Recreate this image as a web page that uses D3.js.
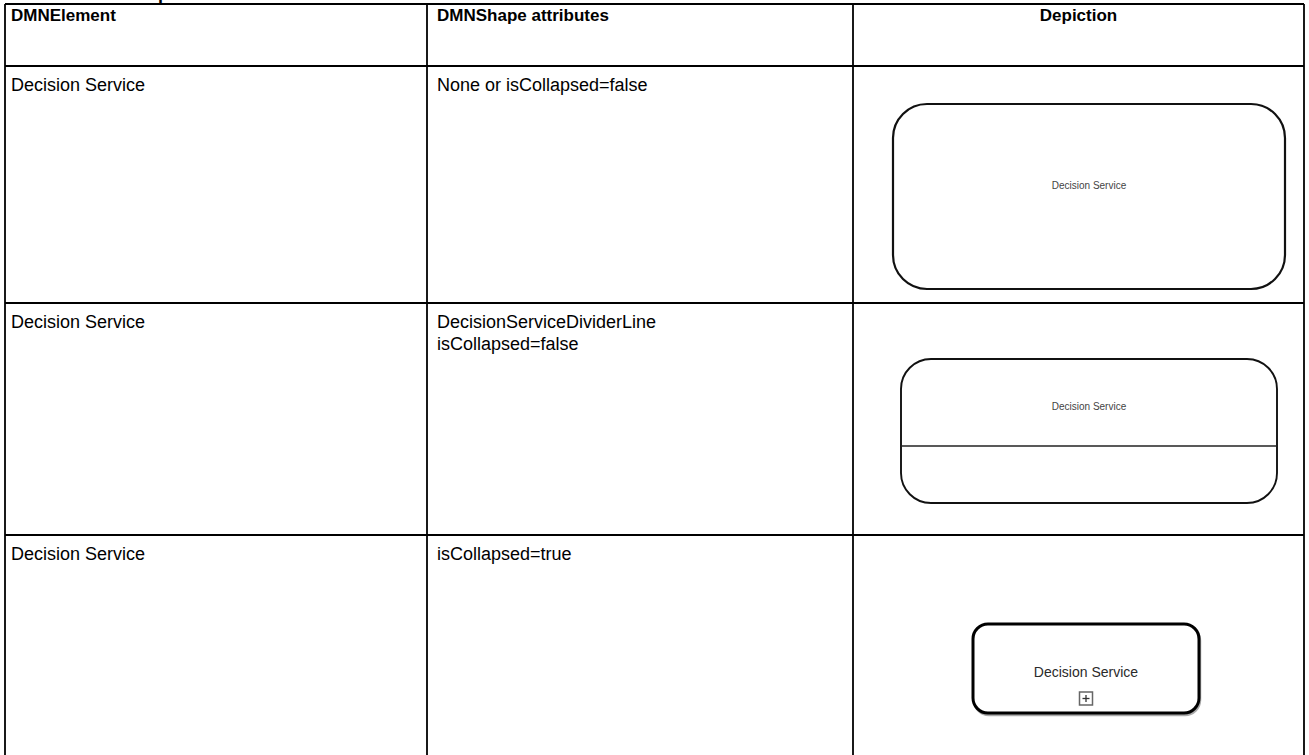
<!DOCTYPE html>
<html>
<head>
<meta charset="utf-8">
<script src="https://cdn.jsdelivr.net/npm/d3@7"></script>
<style>
  html, body { margin: 0; padding: 0; background: #fff; }
  svg { display: block; }
</style>
</head>
<body>
<svg id="chart" width="1309" height="755"></svg>
<script>
// ---- data ----
const headers = ["DMNElement", "DMNShape attributes", "Depiction"];
const elements = ["Decision Service", "Decision Service", "Decision Service"];
const attributes = [
  ["None or isCollapsed=false"],
  ["DecisionServiceDividerLine", "isCollapsed=false"],
  ["isCollapsed=true"]
];
const depictionKinds = ["expanded", "divided", "collapsed"];
const depictionLabel = "Decision Service";
const captionFragment = "p";

// ---- layout ----
const svg = d3.select("#chart");
const font = "Liberation Sans, Arial, sans-serif";

const colEdges = [5, 427, 853, 1304];
const rowEdges = [4, 66, 303, 535, 800];

const xCol = d3.scaleOrdinal().domain(d3.range(3)).range(colEdges.slice(0, 3));
const xColEnd = d3.scaleOrdinal().domain(d3.range(3)).range(colEdges.slice(1));
const yRow = d3.scaleOrdinal().domain(d3.range(4)).range(rowEdges.slice(0, 4));
const yRowEnd = d3.scaleOrdinal().domain(d3.range(4)).range(rowEdges.slice(1));
const padX = [6, 10, 0];

// caption fragment (clipped at top edge, as in the reference)
svg.append("text")
  .attr("x", 158).attr("y", 0)
  .attr("font-family", font).attr("font-weight", "bold").attr("font-size", 18)
  .attr("fill", "#000")
  .text(captionFragment);

const grid = svg.append("g").attr("stroke", "#000").attr("stroke-width", 1.8);
grid.selectAll("line.h").data(rowEdges.slice(0, 4)).join("line")
  .attr("class", "h")
  .attr("x1", colEdges[0]).attr("x2", colEdges[3])
  .attr("y1", d => d).attr("y2", d => d);
grid.selectAll("line.v").data(colEdges).join("line")
  .attr("class", "v")
  .attr("x1", d => d).attr("x2", d => d)
  .attr("y1", rowEdges[0]).attr("y2", 760);

// header
svg.append("g").selectAll("text").data(headers).join("text")
  .attr("x", (d, i) => i === 2 ? (xCol(i) + xColEnd(i)) / 2 : xCol(i) + padX[i])
  .attr("y", yRow(0) + 17)
  .attr("text-anchor", (d, i) => i === 2 ? "middle" : "start")
  .attr("font-family", font).attr("font-weight", "bold").attr("font-size", 17)
  .attr("fill", "#000")
  .text(d => d);

// body col 1
svg.append("g").selectAll("text").data(elements).join("text")
  .attr("x", xCol(0) + padX[0])
  .attr("y", (d, i) => yRow(i + 1) + 25)
  .attr("font-family", font).attr("font-size", 18)
  .attr("fill", "#000")
  .text(d => d);

// body col 2
const attrG = svg.append("g");
attributes.forEach((lines, i) => {
  attrG.selectAll(null).data(lines).join("text")
    .attr("x", xCol(1) + padX[1])
    .attr("y", (d, j) => yRow(i + 1) + 25 + j * 22)
    .attr("font-family", font).attr("font-size", 18)
    .attr("fill", "#000")
    .text(d => d);
});

// depictions
const depG = svg.append("g");
depictionKinds.forEach((kind, i) => {
  const r = i + 1;
  const cx0 = xCol(2), cw = xColEnd(2) - xCol(2);
  const ry0 = yRow(r);
  const g = depG.append("g");
  if (kind === "expanded") {
    const x = cx0 + 40, y = ry0 + 38, w = cw - 59, h = 185;
    g.append("rect").attr("x", x).attr("y", y).attr("width", w).attr("height", h)
      .attr("rx", 34).attr("ry", 34)
      .attr("fill", "#fff").attr("stroke", "#111").attr("stroke-width", 2.2);
    g.append("text").attr("x", x + w / 2).attr("y", y + h / 2 - 8)
      .attr("text-anchor", "middle").attr("font-family", font).attr("font-size", 10)
      .attr("fill", "#444").text(depictionLabel);
  } else if (kind === "divided") {
    const x = cx0 + 48, y = ry0 + 56, w = cw - 75, h = 144;
    g.append("rect").attr("x", x).attr("y", y).attr("width", w).attr("height", h)
      .attr("rx", 30).attr("ry", 30)
      .attr("fill", "#fff").attr("stroke", "#111").attr("stroke-width", 1.9);
    g.append("line").attr("x1", x).attr("x2", x + w)
      .attr("y1", y + 87).attr("y2", y + 87)
      .attr("stroke", "#222").attr("stroke-width", 1.3);
    g.append("text").attr("x", x + w / 2).attr("y", y + 51)
      .attr("text-anchor", "middle").attr("font-family", font).attr("font-size", 10)
      .attr("fill", "#444").text(depictionLabel);
  } else {
    const x = cx0 + 120, y = ry0 + 89, w = 226, h = 89;
    g.append("rect").attr("x", x + 1).attr("y", y + 2).attr("width", w).attr("height", h)
      .attr("rx", 15).attr("ry", 15)
      .attr("fill", "none").attr("stroke", "#aaa").attr("stroke-width", 2.5);
    g.append("rect").attr("x", x).attr("y", y).attr("width", w).attr("height", h)
      .attr("rx", 15).attr("ry", 15)
      .attr("fill", "#fff").attr("stroke", "#000").attr("stroke-width", 3);
    g.append("text").attr("x", x + w / 2).attr("y", y + 53)
      .attr("text-anchor", "middle").attr("font-family", font).attr("font-size", 14)
      .attr("fill", "#2a2a2a").text(depictionLabel);
    const bs = 13, bx = x + w / 2 - bs / 2, by = y + 68;
    g.append("rect").attr("x", bx).attr("y", by).attr("width", bs).attr("height", bs)
      .attr("fill", "#fff").attr("stroke", "#666").attr("stroke-width", 1.5);
    g.append("line").attr("x1", bx + 3).attr("x2", bx + bs - 3)
      .attr("y1", by + bs / 2).attr("y2", by + bs / 2)
      .attr("stroke", "#333").attr("stroke-width", 1.3);
    g.append("line").attr("x1", bx + bs / 2).attr("x2", bx + bs / 2)
      .attr("y1", by + 3).attr("y2", by + bs - 3)
      .attr("stroke", "#333").attr("stroke-width", 1.3);
  }
});
</script>
</body>
</html>
